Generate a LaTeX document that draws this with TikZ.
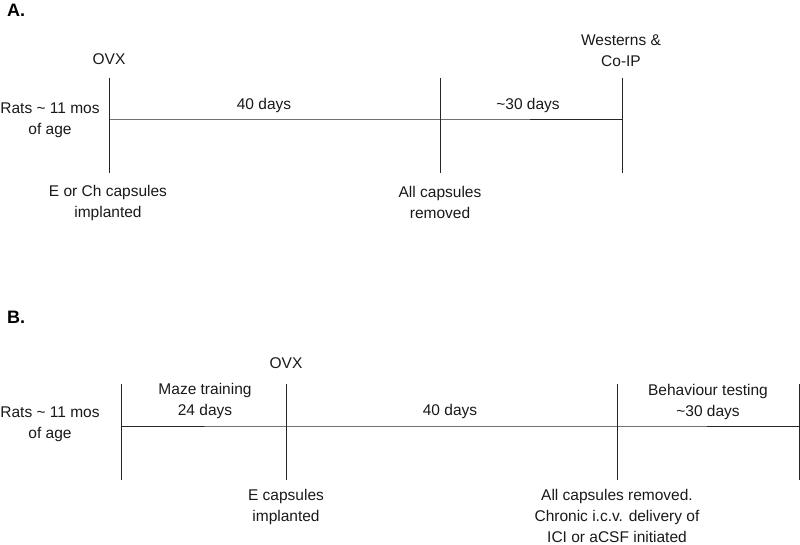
\documentclass[tikz,border=0pt]{standalone}
\usepackage{fontspec}
\setmainfont{Liberation Sans}
\begin{document}
\begin{tikzpicture}[x=1pt,y=-1pt,
  lbl/.style={inner sep=0pt,anchor=base,align=center,font=\fontsize{15.5}{21}\selectfont,text=black!90},
  panel/.style={inner sep=0pt,anchor=base west,font=\fontsize{18}{22}\selectfont\bfseries},
  tl/.style={draw=black!85,line width=0.9pt}]
\useasboundingbox (0,0) rectangle (800,544);
% ---------- Panel A ----------
\node[panel] (pa) at (7,16) {A.};
\foreach \n/\x in {a1/109,a2/440,a3/622}{
  \coordinate (\n t) at (\x,78);
  \coordinate (\n b) at (\x,173);
  \coordinate (\n m) at (\x,119);
}
\draw[tl] (a1t) -- (a1b);
\draw[tl] (a2t) -- (a2b);
\draw[tl] (a3t) -- (a3b);
\draw[tl] (a1m) -- (a2m) -- (a3m);
\node[lbl] (aovx) at (109,64) {OVX};
\node[lbl] (arats) at (50,134) {Rats \textasciitilde{} 11 mos\\of age};
\node[lbl] (a40) at (264,109) {40 days};
\node[lbl] (a30) at (528,109) {\textasciitilde30 days};
\node[lbl] (awest) at (621,66) {Westerns \&\\Co-IP};
\node[lbl] (aimp) at (108,217) {E or Ch capsules\\implanted};
\node[lbl] (arem) at (440,218) {All capsules\\removed};
% ---------- Panel B ----------
\node[panel] (pb) at (7,323) {B.};
\foreach \n/\x in {b1/121,b2/286,b3/617,b4/799}{
  \coordinate (\n t) at (\x,384);
  \coordinate (\n b) at (\x,480);
  \coordinate (\n m) at (\x,426);
}
\draw[tl] (b1t) -- (b1b);
\draw[tl] (b2t) -- (b2b);
\draw[tl] (b3t) -- (b3b);
\draw[tl] (b4t) -- (b4b);
\draw[tl] (b1m) -- (b2m) -- (b3m) -- (b4m);
\node[lbl] (bovx) at (286,368) {OVX};
\node[lbl] (brats) at (50,438) {Rats \textasciitilde{} 11 mos\\of age};
\node[lbl] (bmaze) at (205,415) {Maze training\\24 days};
\node[lbl] (b40) at (450,415) {40 days};
\node[lbl] (bbeh) at (708,416) {Behaviour testing\\\textasciitilde30 days};
\node[lbl] (bimp) at (286,521) {E capsules\\implanted};
\node[lbl] (brem) at (617,542) {All capsules removed.\\Chronic i.c.v. delivery of\\ICI or aCSF initiated};
\end{tikzpicture}
\end{document}
